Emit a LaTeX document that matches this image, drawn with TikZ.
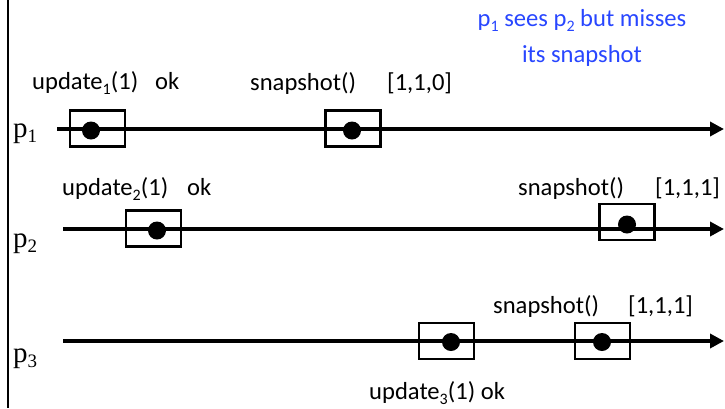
\documentclass[tikz,border=0pt]{standalone}
\usepackage{fontspec}
\setmainfont{Carlito}
\newfontfamily\pfont{Liberation Serif}
\usetikzlibrary{arrows.meta}
\definecolor{noteblue}{RGB}{40,70,255}
\newcommand\mysub[1]{\raisebox{-0.22em}{\fontsize{16}{18}\selectfont #1}}
\newcommand\mypsub[1]{\raisebox{-0.2em}{\fontsize{19}{21}\selectfont #1}}
\begin{document}
\begin{tikzpicture}[x=1pt,y=-1pt,
  timeline/.style={line width=4pt,-{Triangle[length=14pt,width=14pt]}},
  opbox/.style={draw,line width=2.6pt,minimum width=55pt,minimum height=36pt,inner sep=0pt},
  opdot/.style={circle,fill=black,minimum size=18pt,inner sep=0pt},
  lbl/.style={anchor=base west,inner sep=0pt,font=\fontsize{24.6}{29}\selectfont},
  plbl/.style={anchor=base west,inner sep=0pt,font=\fontsize{29}{34}\selectfont\pfont},
  note/.style={anchor=base,inner sep=0pt,text=noteblue,font=\fontsize{24.6}{29}\selectfont}]
\useasboundingbox (0,0) rectangle (725,408);
% left frame
\coordinate (ft) at (8,0);
\coordinate (fb) at (8,408);
\draw[line width=2pt] (ft) -- (fb);
% process labels
\node[plbl] (p1lab) at (13,137) {p\mypsub{1}};
\node[plbl] (p2lab) at (13,247) {p\mypsub{2}};
\node[plbl] (p3lab) at (13,362) {p\mypsub{3}};
% timelines
\coordinate (a1) at (57,129);  \coordinate (b1) at (724,129);
\coordinate (a2) at (63,229);  \coordinate (b2) at (724,229);
\coordinate (a3) at (63,341);  \coordinate (b3) at (724,341);
\draw[timeline] (a1) -- (b1);
\draw[timeline] (a2) -- (b2);
\draw[timeline] (a3) -- (b3);
% operation boxes
\node[opbox] (u1box) at (97.5,128.5) {};
\node[opbox] (s1box) at (353,128.5) {};
\node[opbox] (u2box) at (153.5,228.5) {};
\node[opbox] (s2box) at (627,222) {};
\node[opbox] (u3box) at (446.5,341) {};
\node[opbox] (s3box) at (602.5,341) {};
% points
\node[opdot] (u1dot) at (91,130.5) {};
\node[opdot] (s1dot) at (352,130.5) {};
\node[opdot] (u2dot) at (157,230.5) {};
\node[opdot] (s2dot) at (627,224.5) {};
\node[opdot] (u3dot) at (451,342) {};
\node[opdot] (s3dot) at (602,342) {};
% labels
\node[lbl] (u1) at (32,89) {update\mysub{1}(1)};
\node[lbl] (ok1) at (155,89) {ok};
\node[lbl] (s1) at (250,90) {snapshot()};
\node[lbl] (r1) at (387,90) {[1,1,0]};
\node[lbl] (u2) at (62,195) {update\mysub{2}(1)};
\node[lbl] (ok2) at (187,195) {ok};
\node[lbl] (s2) at (518,195) {snapshot()};
\node[lbl] (r2) at (655,195) {[1,1,1]};
\node[lbl] (s3) at (493,313) {snapshot()};
\node[lbl] (r3) at (628,313) {[1,1,1]};
\node[lbl] (u3) at (369,399) {update\mysub{3}(1) ok};
% note
\node[note] (n1) at (582,26) {p\mysub{1} sees p\mysub{2} but misses};
\node[note] (n2) at (582,62) {its snapshot};
\end{tikzpicture}
\end{document}
